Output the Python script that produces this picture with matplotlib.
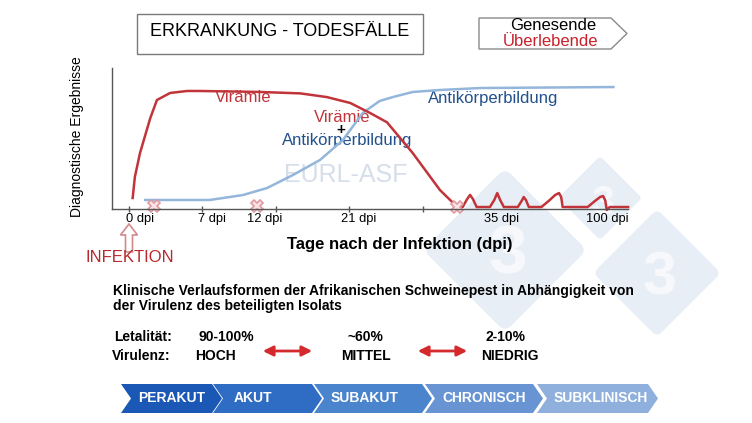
import matplotlib.pyplot as plt
from matplotlib.patches import Rectangle, Polygon, FancyArrow, FancyArrowPatch, FancyBboxPatch
from matplotlib.transforms import Affine2D

plt.rcParams['font.family'] = ['Liberation Sans', 'DejaVu Sans']

### DATA ###
# schematic time axis: one unit between neighbouring ticks
viraemia_x = [0.05, 0.08, 0.15, 0.23, 0.29, 0.38, 0.56, 0.79, 0.97, 1.78, 2.33, 2.69,
              3.01, 3.28, 3.51, 3.86, 4.23, 4.41, 4.50,
              4.54, 4.60, 4.64, 4.68, 4.73,
              4.91, 4.97, 5.01, 5.05, 5.10,
              5.29, 5.35, 5.37, 5.40, 5.44,
              5.61, 5.71, 5.80, 5.85, 5.88, 5.90,
              6.24, 6.34, 6.41, 6.45, 6.48, 6.50, 6.54, 6.79]
viraemia_y = [0.078, 0.227, 0.397, 0.539, 0.645, 0.773, 0.823, 0.837, 0.837, 0.830, 0.820, 0.794,
              0.752, 0.681, 0.615, 0.397, 0.135, 0.043, 0.014,
              0.014, 0.070, 0.100, 0.070, 0.014,
              0.014, 0.064, 0.113, 0.064, 0.014,
              0.014, 0.064, 0.085, 0.064, 0.014,
              0.014, 0.057, 0.100, 0.113, 0.085, 0.014,
              0.014, 0.057, 0.085, 0.092, 0.060, -0.007, 0.014, 0.014]

antibody_x = [0.22, 1.10, 1.55, 1.88, 2.23, 2.60, 2.91, 3.18, 3.41, 3.59, 3.86, 4.23, 4.78, 6.59]
antibody_y = [0.064, 0.064, 0.099, 0.149, 0.241, 0.348, 0.489, 0.681, 0.766, 0.794, 0.830, 0.844, 0.858, 0.865]

cross_x = [0.34, 1.74, 4.46]
cross_y = [0.02, 0.02, 0.014]

tick_pos = [0, 1, 2, 3, 4]
tick_label_pos = [0.15, 1.13, 1.85, 3.12, 5.07, 6.50]
tick_labels = ['0 dpi', '7 dpi', '12 dpi', '21 dpi', '35 dpi', '100 dpi']

lethality = ['90-100%', '~60%', '2-10%']
virulence = ['HOCH', 'MITTEL', 'NIEDRIG']
stages = ['PERAKUT', 'AKUT', 'SUBAKUT', 'CHRONISCH', 'SUBKLINISCH']
#############

RED = '#c0343a'
BLUE_TXT = '#21508c'

fig = plt.figure(figsize=(7.52, 4.23), dpi=100)

# full-figure layer in pixel units for the infographic parts
bg = fig.add_axes([0, 0, 1, 1])
bg.set_xlim(0, 752)
bg.set_ylim(423, 0)
bg.axis('off')

# watermark diamonds
for cx, cy, half, fs in [(505, 250, 82, 50), (600, 198, 42, 30), (657, 273, 64, 44)]:
    side = half * 1.414
    box = FancyBboxPatch((cx - side / 2, cy - side / 2), side, side,
                         boxstyle='round,pad=0,rounding_size=%d' % (side * 0.08),
                         fc='#e8eef5', ec='none', zorder=0)
    box.set_transform(Affine2D().rotate_deg_around(cx, cy, 45) + bg.transData)
    bg.add_patch(box)
    bg.text(cx + 3, cy + 6, '3', fontsize=fs, fontweight='bold', color='#f6f8fb',
            ha='center', va='center', zorder=0.5)

# title box
bg.add_patch(Rectangle((137, 14), 286, 40, fc='white', ec='#7a7a7a', lw=1))
bg.text(280, 31, 'ERKRANKUNG - TODESFÄLLE', fontsize=13, ha='center', va='center')

# outcome arrow box
bg.add_patch(Polygon([(479, 18), (611, 18), (627, 33.5), (611, 49), (479, 49)],
                     closed=True, fc='white', ec='#8a8a8a', lw=1))
bg.text(553, 26, 'Genesende', fontsize=12, ha='center', va='center')
bg.text(551, 42, 'Überlebende', fontsize=12, color='#c8202a', ha='center', va='center')

bg.text(77, 137, 'Diagnostische Ergebnisse', fontsize=10, rotation=90, ha='center', va='center')

# curve labels
bg.text(243, 98, 'Virämie', fontsize=12, color=RED, ha='center', va='center')
bg.text(342, 117, 'Virämie', fontsize=12, color=RED, ha='center', va='center')
bg.text(341, 130, '+', fontsize=11, fontweight='bold', ha='center', va='center')
bg.text(347, 140, 'Antikörperbildung', fontsize=12, color=BLUE_TXT, ha='center', va='center')
bg.text(493, 99, 'Antikörperbildung', fontsize=12, color=BLUE_TXT, ha='center', va='center')
bg.text(346, 175, 'EURL-ASF', fontsize=18, color='#d6dee9', ha='center', va='center', zorder=0.5)

bg.text(400, 244, 'Tage nach der Infektion (dpi)', fontsize=12, fontweight='bold',
        ha='center', va='center')

# infection marker
bg.add_patch(FancyArrow(129, 252, 0, -28, width=7, head_width=17, head_length=11,
                        length_includes_head=True, fc='white', ec='#d28a8a', lw=1.2))
bg.text(130, 258, 'INFEKTION', fontsize=12, color='#b8282c', ha='center', va='center')

# paragraph
bg.text(113, 291, 'Klinische Verlaufsformen der Afrikanischen Schweinepest in Abhängigkeit von',
        fontsize=10, fontweight='bold', ha='left', va='center')
bg.text(113, 306, 'der Virulenz des beteiligten Isolats',
        fontsize=10, fontweight='bold', ha='left', va='center')

bg.text(114, 337, 'Letalität:', fontsize=10, fontweight='bold', ha='left', va='center')
bg.text(112, 356, 'Virulenz:', fontsize=10, fontweight='bold', ha='left', va='center')
for xl, xv, l, v in zip([226, 365, 505], [215, 366, 510], lethality, virulence):
    bg.text(xl, 337, l, fontsize=10, fontweight='bold', ha='center', va='center')
    bg.text(xv, 356, v, fontsize=10, fontweight='bold', ha='center', va='center')
for x0, x1 in [(260, 315), (415, 470)]:
    bg.add_patch(FancyArrowPatch((x0, 351), (x1, 351),
                                 arrowstyle='<|-|>,head_length=0.6,head_width=0.3',
                                 mutation_scale=10, color='#d42a2e', lw=2))

# stage chevrons
lefts = [121, 213, 314, 425, 537]
rights = [212, 312, 422, 533, 648]
centers = [172, 253, 365, 484, 601]
colors = ['#1b58b5', '#2f6dc5', '#4a84cd', '#6894d3', '#8fb0dd']
top, bot, mid = 384, 413, 398.5
for left, right, cxt, col, name in zip(lefts, rights, centers, colors, stages):
    bg.add_patch(Polygon([(left, top), (right, top), (right + 10, mid), (right, bot),
                          (left, bot), (left + 10, mid)], closed=True, fc=col, ec='none'))
    bg.text(cxt, mid, name, fontsize=10, fontweight='bold', color='white',
            ha='center', va='center')

# chart axes
ax = fig.add_axes([112 / 752, (423 - 209) / 423, 516 / 752, 141 / 423])
ax.patch.set_alpha(0)
ax.set_xlim(-0.231, 6.789)
ax.set_ylim(0, 1)
for s in ['top', 'right']:
    ax.spines[s].set_visible(False)
for s in ['left', 'bottom']:
    ax.spines[s].set_color('#555555')
    ax.spines[s].set_linewidth(1)
ax.set_yticks([])
ax.set_xticks(tick_pos)
ax.set_xticklabels([])
ax.tick_params(axis='x', direction='inout', length=5, width=1, color='#555555')

ax.plot(antibody_x, antibody_y, color='#93b6da', lw=1.8, solid_joinstyle='round', clip_on=False)
ax.plot(viraemia_x, viraemia_y, color=RED, lw=1.8, solid_joinstyle='round', clip_on=False)
ax.plot(cross_x, cross_y, ls='none', marker='X', ms=9, mfc='#fbe3e5', mec='#e09aa2',
        mew=1.2, clip_on=False)

for x, lab in zip(tick_label_pos, tick_labels):
    ax.text(x, -0.071, lab, fontsize=9.3, ha='center', va='center')

fig.savefig('out.png', dpi=100)
